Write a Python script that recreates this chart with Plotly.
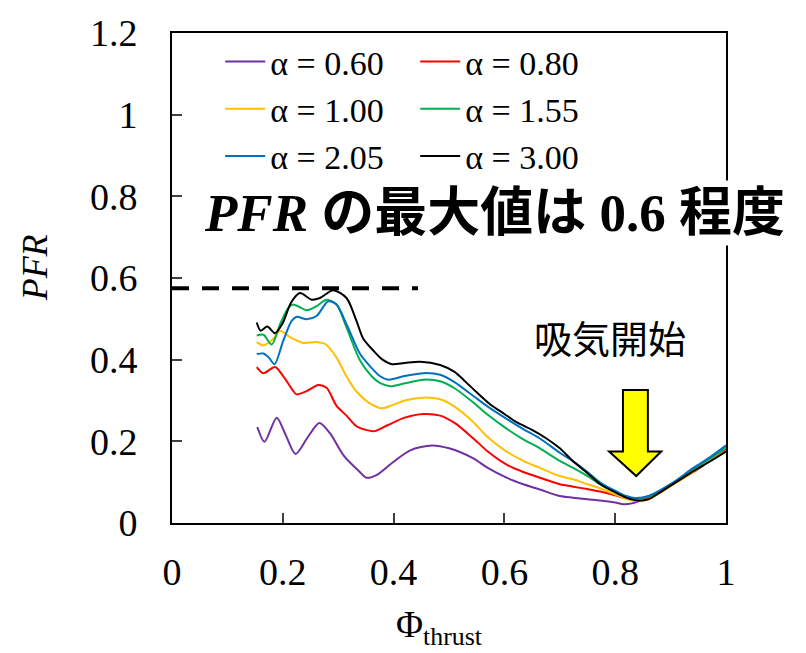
import plotly.graph_objects as go

# ---- data ----
labels = ["α = 0.60", "α = 0.80", "α = 1.00", "α = 1.55", "α = 2.05", "α = 3.00"]
colors = ["#7030A0", "#FF0000", "#FFC000", "#00B050", "#0070C0", "#000000"]

x_a060 = [.154, .167, .189, .205, .223, .245, .266, .285, .31, .339, .351, .37, .40, .43, .469, .50, .543, .57, .604, .634, .664, .70, .724, .75, .773, .80, .815, .83, .85, .87, .90, .941, .97, 1.0]
y_a060 = [.235, .199, .258, .216, .169, .21, .245, .22, .165, .125, .111, .118, .15, .178, .190, .183, .159, .135, .111, .095, .082, .066, .062, .058, .055, .05, .046, .048, .058, .07, .092, .125, .152, .18]

x_a080 = [.153, .165, .186, .201, .219, .225, .243, .264, .279, .297, .315, .333, .35, .366, .39, .42, .454, .484, .51, .544, .57, .604, .634, .664, .70, .724, .75, .773, .80, .82, .836, .86, .90, .941, .97, 1.0]
y_a080 = [.382, .367, .382, .359, .323, .315, .323, .338, .331, .287, .263, .237, .228, .225, .24, .258, .267, .263, .245, .207, .175, .143, .125, .111, .095, .089, .083, .077, .068, .06, .056, .06, .092, .125, .152, .178]

x_a100 = [.153, .165, .183, .195, .213, .237, .261, .276, .297, .315, .333, .355, .379, .40, .42, .454, .484, .51, .544, .57, .604, .634, .664, .70, .724, .75, .773, .796, .815, .832, .86, .90, .941, .97, 1.0]
y_a100 = [.443, .435, .451, .471, .455, .441, .443, .439, .405, .359, .322, .295, .281, .29, .30, .307, .303, .285, .247, .21, .175, .152, .135, .115, .107, .095, .085, .072, .062, .055, .058, .09, .125, .152, .176]

x_a155 = [.153, .165, .180, .195, .210, .219, .243, .261, .279, .297, .315, .339, .36, .375, .394, .42, .454, .484, .51, .544, .57, .604, .634, .664, .70, .724, .75, .773, .80, .82, .836, .86, .90, .941, .97, 1.0]
y_a155 = [.459, .461, .437, .487, .527, .535, .521, .531, .547, .535, .479, .399, .36, .343, .335, .342, .351, .347, .33, .295, .265, .231, .205, .183, .152, .135, .115, .095, .077, .065, .06, .065, .095, .132, .157, .185]

x_a205 = [.153, .165, .175, .185, .201, .216, .225, .243, .261, .282, .297, .315, .339, .36, .375, .391, .42, .454, .484, .51, .544, .57, .604, .634, .664, .70, .724, .75, .773, .80, .82, .836, .86, .90, .941, .97, 1.0]
y_a205 = [.414, .415, .405, .389, .447, .495, .505, .499, .507, .543, .535, .487, .415, .38, .36, .351, .36, .367, .363, .345, .311, .285, .255, .23, .207, .172, .151, .125, .099, .079, .066, .061, .066, .095, .135, .16, .19]

x_a300 = [.153, .160, .172, .186, .200, .215, .231, .252, .267, .291, .315, .333, .345, .363, .380, .397, .420, .448, .484, .51, .526, .55, .574, .60, .622, .65, .676, .70, .724, .75, .773, .80, .82, .839, .86, .881, .91, .941, .97, 1.0]
y_a300 = [.491, .471, .481, .465, .49, .54, .563, .547, .551, .570, .551, .495, .452, .423, .400, .389, .392, .395, .387, .37, .351, .32, .291, .267, .247, .228, .207, .183, .151, .122, .095, .075, .062, .055, .058, .075, .100, .127, .150, .175]

series_x = [x_a060, x_a080, x_a100, x_a155, x_a205, x_a300]
series_y = [y_a060, y_a080, y_a100, y_a155, y_a205, y_a300]

x_ticks = [0, 0.2, 0.4, 0.6, 0.8, 1]
y_ticks = [0, 0.2, 0.4, 0.6, 0.8, 1, 1.2]

max_level = 0.575
dash_end = 0.444

SERIF = "Liberation Serif"

fig = go.Figure()
for xs, ys, name, c in zip(series_x, series_y, labels, colors):
    fig.add_trace(go.Scatter(x=xs, y=ys, mode="lines", name=name,
                             line=dict(color=c, width=2, shape="spline", smoothing=0.8)))

axis_common = dict(showline=True, linecolor="black", linewidth=2, mirror=True,
                   ticks="inside", ticklen=10, tickwidth=1.5, tickcolor="#404040",
                   showgrid=False, zeroline=False,
                   tickfont=dict(family=SERIF, size=38, color="black"))

fig.update_layout(
    width=806, height=653,
    margin=dict(l=172, r=80, t=23, b=130),
    paper_bgcolor="white", plot_bgcolor="white",
    font=dict(family=SERIF, color="black"),
    xaxis=dict(range=[0, 1], tickvals=x_ticks, ticklabelstandoff=14, **axis_common),
    yaxis=dict(range=[0, 1.2], tickvals=y_ticks, ticklabelstandoff=25, **axis_common),
    legend=dict(orientation="h", x=0.087, xanchor="left", y=1.0, yanchor="top",
                entrywidth=140, entrywidthmode="pixels", itemwidth=40,
                font=dict(family=SERIF, size=34, color="black"),
                bgcolor="rgba(0,0,0,0)", tracegroupgap=0),
    showlegend=True,
)

# axis titles
fig.add_annotation(x=0.482, y=-0.214, xref="paper", yref="paper", showarrow=False,
                   xanchor="center", yanchor="middle",
                   text="Φ<sub>thrust</sub>", font=dict(family=SERIF, size=37, color="black"))
fig.add_annotation(x=-0.247, y=0.52, xref="paper", yref="paper", showarrow=False, textangle=-90,
                   xanchor="center", yanchor="middle",
                   text="<i>PFR</i>", font=dict(family=SERIF, size=36, color="black"))

# dashed max level line
fig.add_shape(type="line", xref="x", yref="y", x0=0, x1=dash_end, y0=max_level, y1=max_level,
              line=dict(color="black", width=4, dash="17px,13px"))

# yellow arrow
fig.add_shape(type="path", xref="x", yref="y",
              path="M 0.814 0.326 L 0.859 0.326 L 0.859 0.175 L 0.883 0.175 L 0.838 0.115 L 0.789 0.175 L 0.814 0.175 Z",
              fillcolor="#FFFF00", line=dict(color="black", width=2))

fig.add_annotation(x=0.583, y=0.76, xref="x", yref="y", showarrow=False,
                   text="<b><i>PFR</i></b> <b>の最大値は</b> <b>0.6</b> <b>程度</b>",
                   font=dict(family="Liberation Serif, Noto Sans CJK JP", size=53, color="black"),
                   bgcolor="white", borderpad=3)

fig.add_annotation(x=0.791, y=0.457, xref="x", yref="y", showarrow=False,
                   text="吸気開始",
                   font=dict(family="Noto Sans CJK JP", size=38, color="black"))

fig.write_html("out.html")
